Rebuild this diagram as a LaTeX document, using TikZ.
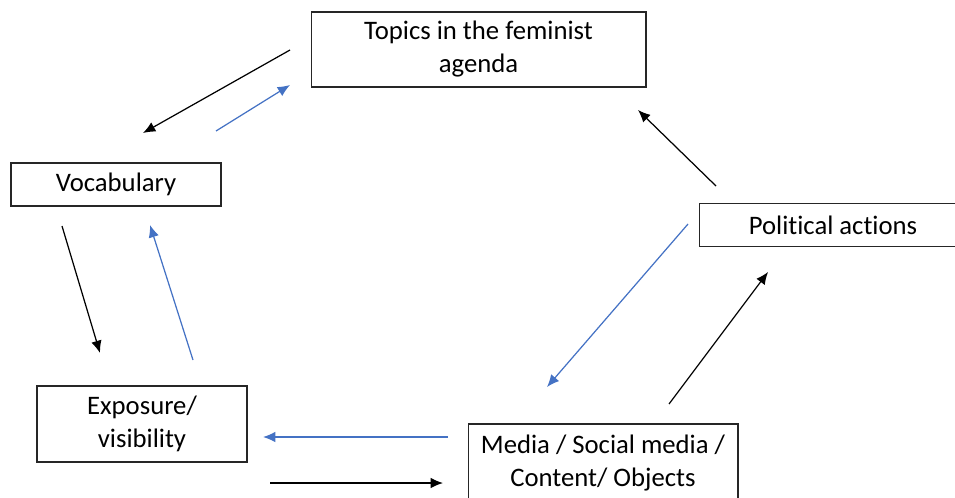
\documentclass[tikz,border=0pt]{standalone}
\usepackage{fontspec}
\setmainfont{Carlito}[RawFeature=-liga]
\usepackage{tikz}
\usetikzlibrary{arrows.meta,positioning,calc}
\definecolor{officeblue}{RGB}{68,114,196}
\tikzset{
    box/.style={draw=black!85,rectangle,line width=0.6pt,inner sep=0pt,align=center,
        font=\fontsize{15.2}{18.8}\selectfont},
    blk/.style={-{Latex[length=7pt,width=6pt]},line width=0.7pt,black},
    blu/.style={-{Latex[length=7pt,width=6pt]},line width=0.7pt,officeblue}
}

\begin{document}
\begin{tikzpicture}[x=0.02cm,y=-0.02cm]
    \useasboundingbox (0,0) rectangle (955,497);
    \clip (0,0) rectangle (955,497);
        \node[box,minimum width=6.7cm,minimum height=1.5cm] (a) at (478.5,49.5) {Topics in the feminist\\agenda};
        \node[box,minimum width=4.2cm,minimum height=0.86cm] (b) at (116,184.5) {Vocabulary};
        \node[box,minimum width=5.36cm,minimum height=0.86cm] (c) at (833,225) {Political actions};
        \node[box,minimum width=4.2cm,minimum height=1.52cm] (d) at (142,424) {Exposure/\\visibility};
        \node[box,minimum width=5.4cm,minimum height=1.56cm] (e) at (603,463) {Media / Social media /\\Content/ Objects};
        \coordinate (a_out) at (290,50);
        \coordinate (b_in) at (143,133);
        \coordinate (b_out) at (216,131);
        \coordinate (a_in) at (290,85);
        \coordinate (b_down) at (62,226);
        \coordinate (d_in) at (100,353);
        \coordinate (d_out) at (193,360);
        \coordinate (b_up) at (150,225);
        \coordinate (e_left) at (448,437);
        \coordinate (d_right) at (263,437);
        \coordinate (d_below) at (270,483);
        \coordinate (e_in) at (443,483);
        \coordinate (c_left) at (688,224);
        \coordinate (e_top) at (547,387);
        \coordinate (e_right) at (669,404);
        \coordinate (c_below) at (768,272);
        \coordinate (c_top) at (716,186);
        \coordinate (a_right) at (638,110);
        \path
            (a_out) edge[blk] (b_in)
            (b_out) edge[blu] (a_in)
            (b_down) edge[blk] (d_in)
            (d_out) edge[blu] (b_up)
            (e_left) edge[blu] (d_right)
            (d_below) edge[blk] (e_in)
            (c_left) edge[blu] (e_top)
            (e_right) edge[blk] (c_below)
            (c_top) edge[blk] (a_right);
    \end{tikzpicture}
\end{document}
